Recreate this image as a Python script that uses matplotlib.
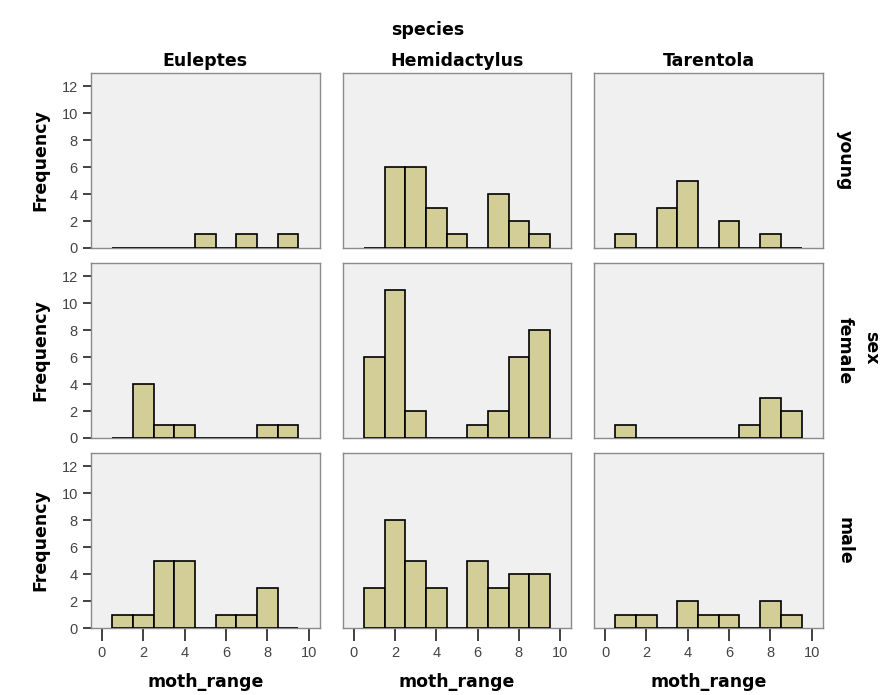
import matplotlib.pyplot as plt

plt.rcParams['font.family'] = ['Liberation Sans', 'DejaVu Sans']

species = ['Euleptes', 'Hemidactylus', 'Tarentola']
sexes = ['young', 'female', 'male']
bin_centers = [1, 2, 3, 4, 5, 6, 7, 8, 9]

# frequency per moth_range bin, one list per (sex, species)
euleptes_young = [0, 0, 0, 0, 1, 0, 1, 0, 1]
hemidactylus_young = [0, 6, 6, 3, 1, 0, 4, 2, 1]
tarentola_young = [1, 0, 3, 5, 0, 2, 0, 1, 0]

euleptes_female = [0, 4, 1, 1, 0, 0, 0, 1, 1]
hemidactylus_female = [6, 11, 2, 0, 0, 1, 2, 6, 8]
tarentola_female = [1, 0, 0, 0, 0, 0, 1, 3, 2]

euleptes_male = [1, 1, 5, 5, 0, 1, 1, 3, 0]
hemidactylus_male = [3, 8, 5, 3, 0, 5, 3, 4, 4]
tarentola_male = [1, 1, 0, 2, 1, 1, 0, 2, 1]

counts = [
    [euleptes_young, hemidactylus_young, tarentola_young],
    [euleptes_female, hemidactylus_female, tarentola_female],
    [euleptes_male, hemidactylus_male, tarentola_male],
]

bar_color = '#d3ce97'
panel_bg = '#f0f0f0'
frame_color = '#8a8a8a'
bold = dict(family='DejaVu Sans', fontsize=12.5, fontweight='bold')

fig, axes = plt.subplots(3, 3, figsize=(8.8, 6.95), dpi=100, sharex=True, sharey=True)
fig.subplots_adjust(left=0.1034, right=0.935, top=0.895, bottom=0.0964,
                    wspace=0.10, hspace=0.086)

for r in range(3):
    for c in range(3):
        ax = axes[r, c]
        ax.set_facecolor(panel_bg)
        ax.bar(bin_centers, counts[r][c], width=1.0, color=bar_color,
               edgecolor='black', linewidth=1.2, zorder=3)
        ax.set_xlim(-0.53, 10.53)
        ax.set_ylim(0, 13)
        for s in ax.spines.values():
            s.set_color(frame_color)
            s.set_linewidth(1.0)
        ax.tick_params(colors='#333333', labelsize=10.5, length=6, width=1.3,
                       labelcolor='#444444')
        ax.set_yticks(range(0, 13, 2))
        ax.set_xticks(range(0, 11, 2))
        if c == 0:
            ax.set_ylabel('Frequency', labelpad=9, **bold)
        else:
            ax.tick_params(axis='y', left=False, labelleft=False)
        if r == 2:
            ax.set_xlabel('moth_range', labelpad=9, **bold)
            ax.tick_params(axis='x', length=9, pad=4)
        else:
            ax.tick_params(axis='x', bottom=False, labelbottom=False)
        if r == 0:
            ax.set_title(species[c], pad=5, **bold)
        if c == 2:
            ax.text(1.055, 0.5, sexes[r], transform=ax.transAxes, rotation=-90,
                    ha='left', va='center', **bold)

fig.text(0.486, 0.957, 'species', ha='center', va='center', **bold)
fig.text(0.99, 0.5, 'sex', ha='center', va='center', rotation=-90, **bold)

fig.savefig('out.png', dpi=100)
